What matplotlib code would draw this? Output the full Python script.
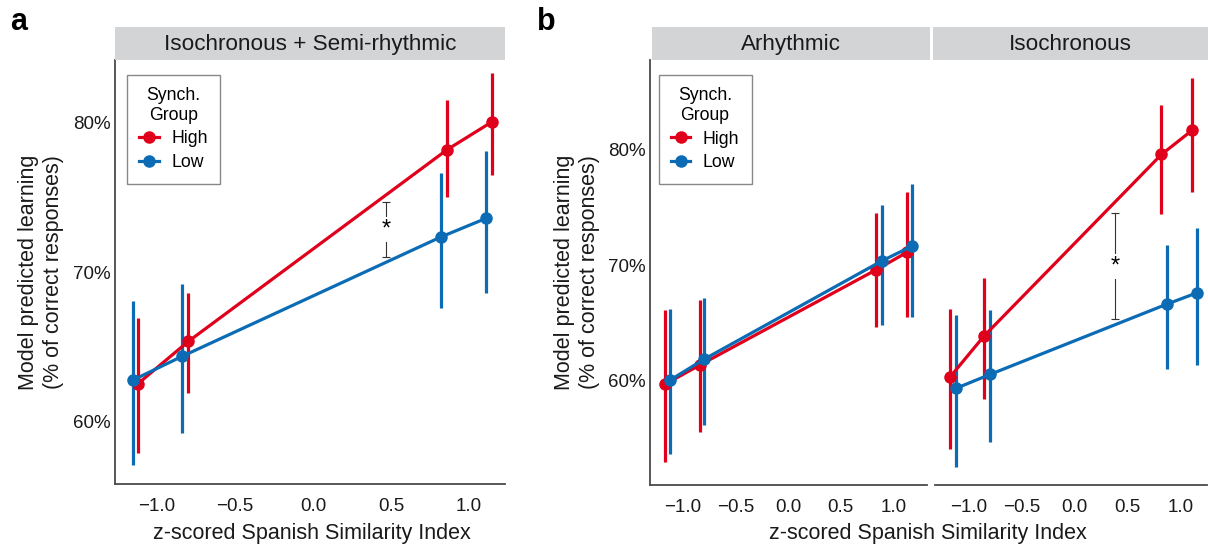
import matplotlib.pyplot as plt
from matplotlib.ticker import FuncFormatter

plt.rcParams['font.family'] = ['Liberation Sans', 'DejaVu Sans']

RED = '#E1001B'
BLUE = '#0B6CB5'
STRIP = '#D3D4D6'
AXCOL = '#4a4a4a'

# panel a: Isochronous + Semi-rhythmic
a_high_x = [-1.125, -0.80, 0.86, 1.145]
a_high_y = [62.5, 65.35, 78.2, 80.05]
a_high_lo = [57.9, 61.9, 75.0, 76.5]
a_high_hi = [66.9, 68.6, 81.5, 83.3]
a_low_x = [-1.157, -0.84, 0.82, 1.11]
a_low_y = [62.75, 64.35, 72.35, 73.6]
a_low_lo = [57.05, 59.2, 67.6, 68.6]
a_low_hi = [68.05, 69.2, 76.6, 78.1]

# panel b: Arhythmic
b1_high_x = [-1.166, -0.84, 0.84, 1.13]
b1_high_y = [59.65, 61.3, 69.6, 71.1]
b1_high_lo = [52.9, 55.5, 64.6, 65.5]
b1_high_hi = [66.1, 67.0, 74.5, 76.3]
b1_low_x = [-1.12, -0.80, 0.89, 1.18]
b1_low_y = [60.0, 61.8, 70.35, 71.65]
b1_low_lo = [53.6, 56.1, 64.8, 65.5]
b1_low_hi = [66.2, 67.1, 75.2, 77.0]

# panel b: Isochronous
b2_high_x = [-1.18, -0.86, 0.82, 1.11]
b2_high_y = [60.25, 63.8, 79.6, 81.7]
b2_high_lo = [54.0, 58.4, 74.4, 76.3]
b2_high_hi = [66.2, 68.9, 83.9, 86.2]
b2_low_x = [-1.12, -0.80, 0.87, 1.16]
b2_low_y = [59.3, 60.5, 66.6, 67.6]
b2_low_lo = [52.5, 54.6, 61.0, 61.3]
b2_low_hi = [65.65, 66.1, 71.7, 73.2]

# significance brackets (x, low, high)
a_sig = [0.47, 71.0, 74.7]
b2_sig = [0.38, 65.3, 74.5]

xticks = [-1.0, -0.5, 0.0, 0.5, 1.0]
yticks = [60, 70, 80]

W, H = 1208, 547
fig = plt.figure(figsize=(W / 100, H / 100), dpi=100)


def px_axes(x0, y0, x1, y1):
    # pixel box (top-left origin) -> figure axes
    return fig.add_axes([x0 / W, 1 - y1 / H, (x1 - x0) / W, (y1 - y0) / H])


def strip(x0, x1, label):
    s = px_axes(x0, 27, x1, 60)
    s.set_facecolor(STRIP)
    s.set_xticks([])
    s.set_yticks([])
    for sp in s.spines.values():
        sp.set_visible(False)
    s.text(0.5, 0.47, label, ha='center', va='center', fontsize=16.2, color='#1a1a1a',
           transform=s.transAxes)


def draw(ax, hx, hy, hlo, hhi, lx, ly, llo, lhi):
    for x, lo, hi in zip(lx, llo, lhi):
        ax.plot([x, x], [lo, hi], color=BLUE, lw=2.3, solid_capstyle='butt', zorder=2)
    for x, lo, hi in zip(hx, hlo, hhi):
        ax.plot([x, x], [lo, hi], color=RED, lw=2.3, solid_capstyle='butt', zorder=2)
    ax.plot(hx, hy, color=RED, lw=2.3, marker='o', ms=8, label='High', zorder=3)
    ax.plot(lx, ly, color=BLUE, lw=2.3, marker='o', ms=8, label='Low', zorder=3)


def style(ax, xlim, ylim, left=True):
    ax.set_xlim(*xlim)
    ax.set_ylim(*ylim)
    ax.set_xticks(xticks)
    ax.set_xticklabels(['\u22121.0', '\u22120.5', '0.0', '0.5', '1.0'])
    ax.set_yticks(yticks)
    ax.yaxis.set_major_formatter(FuncFormatter(lambda v, p: '%d%%' % v))
    ax.tick_params(length=0, labelsize=13.5, colors='#1a1a1a')
    ax.tick_params(axis='x', pad=10)
    ax.tick_params(axis='y', pad=3)
    for sp in ['top', 'right']:
        ax.spines[sp].set_visible(False)
    ax.spines['bottom'].set_color(AXCOL)
    ax.spines['left'].set_color(AXCOL)
    ax.spines['bottom'].set_linewidth(1.3)
    ax.spines['left'].set_linewidth(1.3)
    if not left:
        ax.spines['left'].set_visible(False)
        ax.set_yticklabels([])


def sig(ax, x, lo, hi):
    ax.plot([x, x], [lo, hi], color='#333333', lw=0.8, marker='_', ms=6, mew=0.8, zorder=4)
    ax.text(x, (lo + hi) / 2, '*', ha='center', va='center', fontsize=17, zorder=5,
            bbox=dict(fc='white', ec='none', pad=1.0))


def legend(ax):
    leg = ax.legend(title='Synch.\nGroup', loc='upper left', bbox_to_anchor=(0.031, 0.965),
                    borderaxespad=0, fancybox=False, edgecolor='#888888', fontsize=12.7,
                    title_fontsize=12.7, handlelength=1.1, handletextpad=0.7,
                    borderpad=0.7, labelspacing=0.38, framealpha=1)
    leg.get_frame().set_linewidth(1.0)
    leg._legend_box.align = 'center'
    leg.get_title().set_multialignment('center')
    leg.get_title().set_linespacing(1.2)


# panel a
axa = px_axes(115, 60, 505, 484)
draw(axa, a_high_x, a_high_y, a_high_lo, a_high_hi, a_low_x, a_low_y, a_low_lo, a_low_hi)
sig(axa, *a_sig)
style(axa, (-1.27, 1.23), (55.8, 84.2))
legend(axa)
strip(115, 505, 'Isochronous + Semi-rhythmic')

# panel b, left facet
axb1 = px_axes(650, 60, 927, 485)
draw(axb1, b1_high_x, b1_high_y, b1_high_lo, b1_high_hi, b1_low_x, b1_low_y, b1_low_lo, b1_low_hi)
style(axb1, (-1.31, 1.32), (50.9, 87.8))
legend(axb1)
strip(652, 930, 'Arhythmic')

# panel b, right facet
axb2 = px_axes(935, 60, 1207, 485)
draw(axb2, b2_high_x, b2_high_y, b2_high_lo, b2_high_hi, b2_low_x, b2_low_y, b2_low_lo, b2_low_hi)
sig(axb2, *b2_sig)
style(axb2, (-1.32, 1.25), (50.9, 87.8), left=False)
strip(933, 1208, 'Isochronous')

# axis titles
ylab = 'Model predicted learning\n(% of correct responses)'
fig.text(41 / W, 1 - 272 / H, ylab, rotation=90, ha='center', va='center', fontsize=15.5,
         linespacing=1.3, color='#1a1a1a')
fig.text(577 / W, 1 - 272 / H, ylab, rotation=90, ha='center', va='center', fontsize=15.5,
         linespacing=1.3, color='#1a1a1a')
xlab = 'z-scored Spanish Similarity Index'
fig.text(312 / W, 1 - 533 / H, xlab, ha='center', va='center', fontsize=15.5, color='#1a1a1a')
fig.text(928 / W, 1 - 533 / H, xlab, ha='center', va='center', fontsize=15.5, color='#1a1a1a')

# panel letters
fig.text(10 / W, 1 - 22 / H, 'a', fontsize=22, fontweight='bold', va='center')
fig.text(537 / W, 1 - 22 / H, 'b', fontsize=22, fontweight='bold', va='center')

fig.savefig('out.png', dpi=100)
